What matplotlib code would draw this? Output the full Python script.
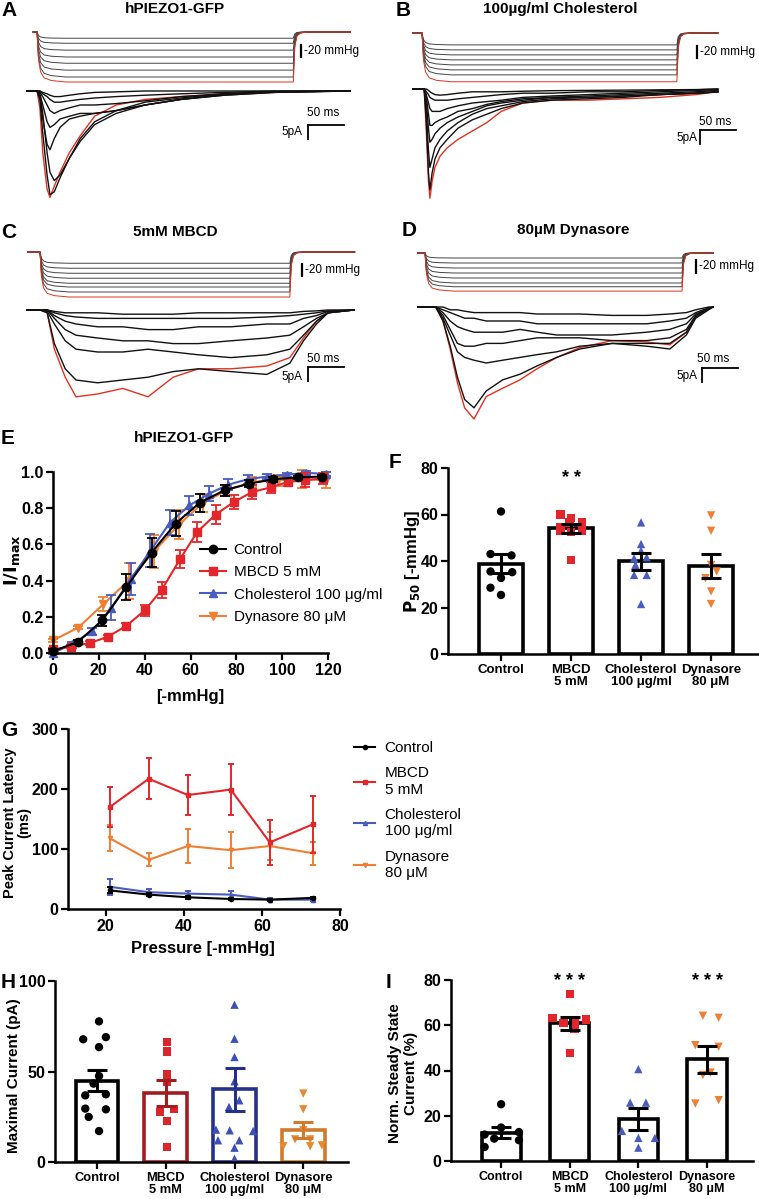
import matplotlib
matplotlib.use('Agg')
import matplotlib.pyplot as plt

plt.rcParams['font.family'] = ['Liberation Sans', 'DejaVu Sans']

W, H = 759, 1199
fig = plt.figure(figsize=(W / 100, H / 100), dpi=100)


def ax_px(x0, y0, x1, y1):
    return fig.add_axes([x0 / W, 1 - y1 / H, (x1 - x0) / W, (y1 - y0) / H])


def ftext(x, y, s, **kw):
    fig.text(x / W, 1 - y / H, s, **kw)


# ---------------- colours ----------------
C_CTRL = 'black'
C_MBCD = '#e3262b'
C_CHOL = '#4a5cbf'
C_DYN = '#f07f32'
C_TRACE_RED = '#e2321f'

# ---------------- trace data (A-D) ----------------
# pressure step levels (mmHg)
A_levels = [-10, -18, -29, -40, -50, -61, -72, -80]
B_levels = [-19, -27, -35, -43, -51, -59, -67, -78]
C_levels = [-18, -26, -34, -42, -50, -56, -64, -72]
D_levels = [-8, -16, -24, -32, -40, -48, -54, -61]
# pressure protocol times (start, release, end) in ms
A_ptimes = (-5.5, 356, 435)
B_ptimes = (-12.5, 354, 411)
C_ptimes = (-17, 347, 437)
D_ptimes = (-10, 357, 400)
# step shape
ON_T = [0, 2, 5, 10, 20, 40]
ON_F = [0, 0.55, 0.8, 0.92, 0.97, 1.0]
OFF_T = [0, 2, 5, 10, 20]
OFF_F = [1.0, 0.3, 0.08, 0.02, 0.0]

# current sweeps (pA) sampled at the listed times (ms)
A_t = [-14, 0, 4, 8, 14, 18, 24, 32, 45, 60, 80, 110, 150, 200, 260, 330, 435]
A_red = [0, 0, -6, -22, -35, -38, -34, -29, -22, -16, -9, -5, -3, -2, -1, -0.3, 0]
A_sweeps = [
    [0, 0, 0, -0.5, -1, -1.5, -2, -2, -1.5, -1, -0.5, -0.3, 0, 0, 0, 0, 0],
    [0, 0, 0, -1, -2, -3, -4, -4, -3.5, -3, -2.5, -2, -1.5, -1, -0.5, 0, 0],
    [0, 0, -0.5, -2, -5, -7, -8, -7, -6, -5, -5, -4.5, -3.5, -2, -1, -0.3, 0],
    [0, 0, -1, -5, -11, -13, -12, -10, -9, -8, -8, -7, -5, -3, -1.5, -0.5, 0],
    [0, 0, -2, -10, -19, -21, -17, -13, -10, -9, -8, -7, -5, -3, -1.5, -0.5, 0],
    [0, 0, -1, -8, -22, -29, -32, -30, -24, -18, -12, -8, -5, -3, -1.2, -0.3, 0],
    [0, 0, -3, -15, -30, -37, -36, -31, -24, -17, -11, -7, -4, -2.5, -1, -0.3, 0],
]

B_t = [-12.5, 0, 3, 6, 9, 11, 14, 18, 25, 35, 50, 70, 90, 110, 140, 180, 230, 280, 330, 380, 411]
B_red = [0, 0, 0, -15, -33, -39, -33, -28, -24, -21, -18, -15, -12, -8, -5, -4, -4, -3.5, -3, -2, -1]
B_sweeps = [
    [0, 0, 0, 0, -0.5, -1, -1.5, -2, -2.2, -2, -1.5, -1, -1, -1, -0.8, -0.6, -0.5, -0.4, -0.3, -0.2, 0],
    [0, 0, 0, -1, -2, -3, -3.5, -4, -4, -4, -3.5, -3, -2.5, -2, -1.5, -1.5, -1, -1, -0.5, -0.3, 0],
    [0, 0, 0, -2, -5, -7, -8, -8, -8, -7, -6, -5, -4.5, -4, -3, -2.5, -2, -1.5, -1, -0.5, -0.3],
    [0, 0, 0, -3, -9, -13, -13, -12, -11, -10, -8, -7, -5.5, -4.5, -3.5, -3, -2.5, -2, -1.5, -1, -0.5],
    [0, 0, 0, -5, -14, -19, -18, -16, -14, -12, -10, -8, -6, -5, -4, -3, -3, -2.5, -2, -1.5, -1],
    [0, 0, 0, -8, -22, -28, -25, -21, -18, -15, -12, -9, -7, -6, -4.5, -3.5, -3, -2.5, -2, -1.5, -1],
    [0, 0, 0, -12, -30, -36, -30, -25, -21, -18, -14, -11, -9, -7, -5, -4, -3.5, -3, -2, -1.5, -1],
]

C_t = [-18, 0, 10, 20, 35, 50, 80, 115, 150, 185, 220, 265, 315, 347, 366, 384, 400, 436]
C_red = [0, 0, -1, -14, -24, -31, -30, -28, -31, -24, -21, -21, -20, -17, -10, -4, -1, 0]
C_sweeps = [
    [0, 0, 0, -0.5, -1, -1, -1, -1.5, -1.5, -1.5, -1, -1, -1, -1, -0.5, -0.3, 0, 0],
    [0, 0, 0, -1, -2, -2.5, -3, -3, -3, -3, -3, -3, -2.5, -2, -1.5, -1, -0.3, 0],
    [0, 0, 0, -2, -4, -5, -6, -6, -7, -7, -6, -6, -5, -5, -3, -2, -0.5, 0],
    [0, 0, 0, -3, -7, -9, -10, -11, -11, -12, -12, -11, -10, -9, -6, -3, -1, 0],
    [0, 0, -0.5, -5, -11, -14, -15, -15, -14, -15, -16, -17, -16, -14, -9, -4, -1, 0],
    [0, 0, -1, -12, -21, -25, -26, -25, -24, -22, -21, -22, -23, -19, -11, -5, -1, 0],
]

D_t = [-10, 0, 15, 25, 35, 45, 55, 68, 85, 108, 132, 156, 183, 215, 260, 308, 340, 363, 376, 394, 400]
D_red = [0, 0, 0, -5, -15, -27, -36, -40, -32, -29, -26, -22, -18, -14.5, -12, -12.5, -13.5, -9, -3.5, -0.7, 0]
D_sweeps = [
    [0, 0, 0, 0, -1, -1, -1.5, -2, -2, -2, -2, -2.5, -2.5, -2.5, -3, -3, -2.5, -2, -1, 0, 0],
    [0, 0, 0, -1, -2, -3, -4, -4, -5, -5, -5, -6, -6, -6, -6, -6, -5, -4, -2, -0.3, 0],
    [0, 0, 0, -2, -5, -7, -8, -9, -9, -9, -8, -9, -10, -10, -10, -9, -8, -6, -2.5, -0.5, 0],
    [0, 0, 0, -3, -8, -13, -14, -14, -13, -13, -12, -11, -11, -11, -12, -12, -11, -8, -3, -0.5, 0],
    [0, 0, 0, -4, -10, -16, -18, -19, -20, -19, -18, -17, -16, -14, -13, -14, -15, -10, -4, -1, 0],
    [0, 0, 0, -5, -14, -25, -33, -36, -30, -26, -24, -21, -18, -15, -13, -13, -13, -9, -3.5, -0.7, 0],
]

# ---------------- E: activation curves ----------------
E_x_ctrl = [0, 10.7, 21.5, 32, 43, 53.5, 64, 75, 85.5, 96, 107, 117.5]
E_y_ctrl = [0.01, 0.06, 0.18, 0.365, 0.555, 0.715, 0.83, 0.90, 0.935, 0.96, 0.97, 0.975]
E_e_ctrl = [0.01, 0.01, 0.03, 0.07, 0.08, 0.07, 0.05, 0.03, 0.02, 0.015, 0.01, 0.01]
E_x_mbcd = [0, 8, 16, 24, 32, 40, 47.5, 55.5, 63, 71, 79, 87, 95, 102.5, 110, 118]
E_y_mbcd = [0.02, 0.035, 0.055, 0.09, 0.15, 0.235, 0.35, 0.52, 0.67, 0.765, 0.835, 0.89, 0.915, 0.945, 0.955, 0.965]
E_e_mbcd = [0.01, 0.01, 0.01, 0.01, 0.015, 0.03, 0.045, 0.05, 0.055, 0.05, 0.04, 0.04, 0.03, 0.02, 0.04, 0.03]
E_x_chol = [0, 8.5, 17, 25.5, 34, 42.5, 51, 59.5, 68, 76.5, 85, 93.5, 102, 110.5, 119]
E_y_chol = [0.0, 0.05, 0.12, 0.25, 0.41, 0.565, 0.72, 0.815, 0.88, 0.93, 0.96, 0.975, 0.985, 0.995, 0.99]
E_e_chol = [0.005, 0.01, 0.02, 0.07, 0.09, 0.09, 0.07, 0.05, 0.04, 0.03, 0.025, 0.015, 0.01, 0.01, 0.01]
E_x_dyn = [0, 11, 22, 33, 44, 55, 65.5, 76, 87, 98, 108.5, 119]
E_y_dyn = [0.07, 0.14, 0.27, 0.40, 0.56, 0.71, 0.83, 0.90, 0.945, 0.955, 0.96, 0.955]
E_e_dyn = [0.01, 0.01, 0.04, 0.10, 0.09, 0.08, 0.05, 0.03, 0.03, 0.03, 0.05, 0.045]
E_labels = ['Control', 'MBCD 5 mM', 'Cholesterol 100 \u03bcg/ml', 'Dynasore 80 \u03bcM']

# ---------------- F: P50 ----------------
F_means = [38.8, 54.0, 39.8, 37.8]
F_sem = [4.0, 2.0, 3.8, 5.1]
F_ctrl = [61.3, 43.0, 42.4, 35.5, 35.2, 32.7, 28.5, 25.4]
F_ctrl_dx = [0, -0.15, 0.15, -0.15, 0.16, 0, -0.15, 0]
F_mbcd = [60.0, 58.5, 56.6, 56.6, 54.4, 53.0, 52.6, 53.0, 40.5]
F_mbcd_dx = [-0.15, 0, -0.02, 0.16, -0.15, -0.15, 0, 0.16, 0]
F_chol = [56.6, 47.3, 44.4, 41.2, 41.6, 38.3, 34.0, 34.0, 21.5]
F_chol_dx = [0, 0, 0, -0.1, 0.08, -0.08, -0.1, 0.08, 0]
F_dyn = [59.6, 53.0, 38.3, 35.5, 32.6, 26.9, 21.5]
F_dyn_dx = [0, 0, 0, 0.08, -0.08, 0, 0]

# ---------------- G: peak latency ----------------
G_x = [21, 31, 41, 52, 62, 73]
G_ctrl = [31, 24, 19.5, 16.7, 15.6, 18.5]
G_ctrl_e = [5, 3, 2, 2, 1.5, 2]
G_mbcd = [170, 217, 190, 199, 111, 141]
G_mbcd_e = [33, 34, 34, 43, 37, 47]
G_chol = [37, 28, 25.6, 24, 15.6, 15.6]
G_chol_e = [13, 6, 4, 6, 2, 2]
G_dyn = [118, 82, 105, 98, 105, 93]
G_dyn_e = [22, 11, 29, 30, 23, 19]
G_labels = ['Control', 'MBCD\n5 mM', 'Cholesterol\n100 \u03bcg/ml', 'Dynasore\n80 \u03bcM']

# ---------------- H: maximal current ----------------
H_means = [44.8, 38.1, 40.1, 17.5]
H_sem = [5.8, 7.0, 12.0, 4.4]
H_ctrl = [77.7, 69.0, 67.8, 63.5, 47.5, 43.3, 37.4, 36.8, 29.5, 29.1, 24.9, 17.1]
H_ctrl_dx = [0.03, 0.13, -0.2, 0.03, 0.03, -0.05, 0.13, -0.17, -0.17, 0.13, -0.12, 0.03]
H_mbcd = [66.3, 61.1, 48.8, 44.2, 29.1, 27.6, 22.5, 8.3]
H_mbcd_dx = [0.02, 0.02, 0.02, 0.02, 0.12, -0.08, 0.02, 0.02]
H_chol = [86.9, 68.1, 58.0, 44.6, 34.1, 30.4, 17.9, 17.5, 17.1, 12.0, 12.0, 7.9, 1.8]
H_chol_dx = [0, 0, 0, 0, 0.07, -0.08, -0.27, -0.07, 0.27, -0.24, 0.07, 0, 0]
H_dyn = [37.8, 29.1, 17.5, 12.5, 12.5, 8.7, 8.7, 9.2]
H_dyn_dx = [0, 0, 0, -0.12, 0.1, -0.29, 0.1, 0.27]
H_edge = ['black', '#a11d22', '#26318a', '#cf7a2c']
H_pt = ['black', '#d9252b', '#3d50b5', '#e8892f']

# ---------------- I: steady state ----------------
I_means = [12.5, 60.8, 18.7, 45.0]
I_sem = [2.4, 2.8, 4.8, 6.0]
I_ctrl = [25.1, 14.8, 12.8, 11.7, 9.9, 9.2, 6.2]
I_ctrl_dx = [0, 0, 0.26, -0.24, -0.1, 0.26, -0.24]
I_mbcd = [73.8, 63.3, 62.6, 62.0, 61.0, 58.2, 47.8]
I_mbcd_dx = [0, -0.25, 0.24, 0.07, -0.09, 0.07, 0]
I_chol = [40.6, 25.8, 25.8, 13.3, 10.2, 10.2, 5.9]
I_chol_dx = [0, -0.12, 0.11, -0.24, 0, 0.24, 0]
I_dyn = [64.2, 63.3, 51.2, 50.5, 39.1, 38.0, 25.4, 26.9]
I_dyn_dx = [-0.06, 0.17, -0.17, 0.17, 0.05, -0.06, -0.17, 0.17]

CAT_LABELS = ['Control', 'MBCD\n5 mM', 'Cholesterol\n100 \u03bcg/ml', 'Dynasore\n80 \u03bcM']

# =====================================================================
PX_MS = 0.72
PX_MMHG = 0.625
PX_PA = 2.8
TLIM = (-30, 460)
P_LIM = (-95, 5)
I_LIM = (-45, 3)


def trace_panel(onset_x, p_base_y, i_base_y, levels, ptimes, t, sweeps, red, sb):
    x0 = onset_x + TLIM[0] * PX_MS
    x1 = onset_x + TLIM[1] * PX_MS
    axp = ax_px(x0, p_base_y - P_LIM[1] * PX_MMHG, x1, p_base_y - P_LIM[0] * PX_MMHG)
    axp.set_xlim(TLIM)
    axp.set_ylim(P_LIM)
    axp.axis('off')
    t_start, t_off, t_end = ptimes
    tt = [t_start] + ON_T + [t_off + r for r in OFF_T] + [t_end]
    ff = [0] + ON_F + OFF_F + [0]
    for k, L in enumerate(levels):
        last = k == len(levels) - 1
        col = C_TRACE_RED if last else '#444444'
        axp.plot(tt, [L * f for f in ff], color=col, lw=0.7, zorder=3 if last else 2)
    tb, yb0, yb1 = sb['mm']
    axp.plot([tb, tb], [yb0, yb1], color='black', lw=1.6, clip_on=False)
    axp.text(tb + 4, (yb0 + yb1) / 2, '-20 mmHg', fontsize=8.5, va='center', ha='left')

    axi = ax_px(x0, i_base_y - I_LIM[1] * PX_PA, x1, i_base_y - I_LIM[0] * PX_PA)
    axi.set_xlim(TLIM)
    axi.set_ylim(I_LIM)
    axi.axis('off')
    axi.plot(t, red, color=C_TRACE_RED, lw=1.0, zorder=2)
    for s in sweeps:
        axi.plot(t, s, color='#111111', lw=1.0, zorder=3)
    tc, ic = sb['cur']
    axi.plot([tc, tc + 50], [ic, ic], color='black', lw=1.3, clip_on=False)
    axi.plot([tc, tc], [ic, ic - 5], color='black', lw=1.3, clip_on=False)
    axi.text(sb['ms'][0], sb['ms'][1], '50 ms', fontsize=8.5, ha='center', va='center')
    axi.text(sb['pa'][0], sb['pa'][1], '5pA', fontsize=8.5, ha='right', va='center')


trace_panel(37, 32, 91, A_levels, A_ptimes, A_t, A_sweeps, A_red,
            {'mm': (367, -21, -40), 'cur': (376, -12.1), 'ms': (397, -7.9), 'pa': (369, -14.6)})
trace_panel(422, 33, 89, B_levels, B_ptimes, B_t, B_sweeps, B_red,
            {'mm': (382, -21, -40), 'cur': (386, -14.6), 'ms': (407, -11.8), 'pa': (382, -17.5)})
trace_panel(40, 252, 310, C_levels, C_ptimes, C_t, C_sweeps, C_red,
            {'mm': (364, -19, -39), 'cur': (372, -20.4), 'ms': (393, -17.5), 'pa': (365, -23.9)})
trace_panel(425, 253, 307, D_levels, D_ptimes, D_t, D_sweeps, D_red,
            {'mm': (376, -11, -32), 'cur': (385, -21.8), 'ms': (400, -18.6), 'pa': (378, -24.6)})

# panel letters and titles
LET = dict(fontsize=15, fontweight='bold', va='center', ha='left')
TIT = dict(fontsize=11, fontweight='bold', va='center', ha='center')
ftext(1, 10, 'A', **LET)
ftext(396, 10, 'B', **LET)
ftext(1, 232, 'C', **LET)
ftext(402, 231, 'D', **LET)
ftext(1, 438, 'E', **LET)
ftext(389, 462, 'F', **LET)
ftext(1, 730, 'G', **LET)
ftext(1, 983, 'H', **LET)
ftext(386, 982, 'I', **LET)
ftext(175, 9, 'hPIEZO1-GFP', **TIT)
ftext(560, 9, '100\u00b5g/ml Cholesterol', **TIT)
ftext(175, 232, '5mM MBCD', **TIT)
ftext(573, 230, '80\u00b5M Dynasore', **TIT)
ftext(184, 438, 'hPIEZO1-GFP', **TIT)


def style(ax, fs=11.5):
    for s in ['top', 'right']:
        ax.spines[s].set_visible(False)
    for s in ['left', 'bottom']:
        ax.spines[s].set_linewidth(1.8)
    ax.tick_params(width=1.6, length=5, labelsize=fs, pad=2)
    for lab in ax.get_xticklabels() + ax.get_yticklabels():
        lab.set_fontweight('bold')


# ---------------- E ----------------
axE = ax_px(53, 472, 328, 653)
axE.set_xlim(0, 120)
axE.set_ylim(0, 1.0)
handles = []
for x, y, e, col, mk, lab in [
    (E_x_dyn, E_y_dyn, E_e_dyn, C_DYN, 'v', E_labels[3]),
    (E_x_chol, E_y_chol, E_e_chol, C_CHOL, '^', E_labels[2]),
    (E_x_mbcd, E_y_mbcd, E_e_mbcd, C_MBCD, 's', E_labels[1]),
    (E_x_ctrl, E_y_ctrl, E_e_ctrl, C_CTRL, 'o', E_labels[0]),
]:
    axE.errorbar(x, y, yerr=e, fmt='none', ecolor=col, elinewidth=1.3, capsize=3.5, capthick=1.3, clip_on=False)
    ln, = axE.plot(x, y, color=col, lw=1.5, marker=mk, ms=6, clip_on=False, label=lab)
    handles.append(ln)
handles = handles[::-1]
axE.set_xticks(range(0, 121, 20))
axE.set_yticks([0, 0.2, 0.4, 0.6, 0.8, 1.0])
axE.set_yticklabels(['0.0', '0.2', '0.4', '0.6', '0.8', '1.0'])
style(axE)
fig.legend(handles=handles, loc='upper left', bbox_to_anchor=(200 / W, 1 - 543 / H), frameon=False,
           fontsize=11, handlelength=1.7, handletextpad=0.5, labelspacing=0.55, borderpad=0, borderaxespad=0)
ftext(12, 560, r'$\mathbf{I/I_{max}}$', fontsize=13, rotation=90, ha='center', va='center')
ftext(190, 697, '[-mmHg]', fontsize=12, fontweight='bold', ha='center', va='center')


def bar_panel(ax, means, sem, groups, edges, ptcols, markers, width, capsize, fs):
    xs = range(len(means))
    ax.bar(xs, means, width=width, color='white', edgecolor=edges, linewidth=2.6, zorder=1)
    for i, (vals, dx) in enumerate(groups):
        ax.scatter([i + d for d in dx], vals, marker=markers[i], s=36, color=ptcols[i],
                   edgecolors='none', zorder=2, clip_on=False)
    for i in xs:
        ax.errorbar([i], [means[i]], yerr=[sem[i]], fmt='none', ecolor=edges[i], elinewidth=2.2,
                    capsize=capsize, capthick=2.2, zorder=3)
    ax.set_xticks(list(xs))
    ax.set_xticklabels(CAT_LABELS, linespacing=1.05)
    style(ax)
    for lab in ax.get_xticklabels():
        lab.set_fontsize(fs)


MARKERS = ['o', 's', '^', 'v']

# ---------------- F ----------------
axF = ax_px(448, 468, 758, 654)
axF.set_xlim(-0.757, 3.67)
axF.set_ylim(0, 80)
axF.set_yticks([0, 20, 40, 60, 80])
bar_panel(axF, F_means, F_sem,
          [(F_ctrl, F_ctrl_dx), (F_mbcd, F_mbcd_dx), (F_chol, F_chol_dx), (F_dyn, F_dyn_dx)],
          ['black'] * 4, [C_CTRL, C_MBCD, C_CHOL, C_DYN], MARKERS, 0.63, 7.5, 9.5)
axF.text(1, 75.5, '* *', fontsize=13, fontweight='bold', ha='center', va='center')
ftext(412, 561, r'$\mathbf{P_{50}}$ [-mmHg]', fontsize=12, fontweight='bold', rotation=90, ha='center', va='center')

# ---------------- G ----------------
axG = ax_px(68, 729, 340, 909)
axG.set_xlim(10.3, 80)
axG.set_ylim(0, 300)
g_handles = []
for y, e, col, mk, lab in [
    (G_dyn, G_dyn_e, C_DYN, 'v', G_labels[3]),
    (G_mbcd, G_mbcd_e, C_MBCD, 's', G_labels[1]),
    (G_chol, G_chol_e, C_CHOL, '^', G_labels[2]),
    (G_ctrl, G_ctrl_e, C_CTRL, 'o', G_labels[0]),
]:
    axG.errorbar(G_x, y, yerr=e, fmt='none', ecolor=col, elinewidth=1.4, capsize=2.5, capthick=1.4)
    ln, = axG.plot(G_x, y, color=col, lw=1.5, marker=mk, ms=3, label=lab)
    g_handles.append(ln)
g_handles = [g_handles[3], g_handles[1], g_handles[2], g_handles[0]]
axG.set_xticks([20, 40, 60, 80])
axG.set_yticks([0, 100, 200, 300])
style(axG)
fig.legend(handles=g_handles, loc='upper left', bbox_to_anchor=(354 / W, 1 - 741 / H), frameon=False,
           fontsize=11, handlelength=1.4, handletextpad=0.6, labelspacing=0.75, borderpad=0, borderaxespad=0)
ftext(203, 949, 'Pressure [-mmHg]', fontsize=12, fontweight='bold', ha='center', va='center')
ftext(17, 823, 'Peak Current Latency\n(ms)', fontsize=10.5, fontweight='bold', rotation=90,
      ha='center', va='center', linespacing=1.0)

# ---------------- H ----------------
axH = ax_px(55, 981, 348, 1162)
axH.set_xlim(-0.61, 3.65)
axH.set_ylim(0, 100)
axH.set_yticks([0, 50, 100])
bar_panel(axH, H_means, H_sem,
          [(H_ctrl, H_ctrl_dx), (H_mbcd, H_mbcd_dx), (H_chol, H_chol_dx), (H_dyn, H_dyn_dx)],
          H_edge, H_pt, MARKERS, 0.62, 7.5, 9.3)
ftext(14, 1076, 'Maximal Current (pA)', fontsize=11, fontweight='bold', rotation=90, ha='center', va='center')

# ---------------- I ----------------
axI = ax_px(451, 980, 753, 1161)
axI.set_xlim(-0.73, 3.67)
axI.set_ylim(0, 80)
axI.set_yticks([0, 20, 40, 60, 80])
bar_panel(axI, I_means, I_sem,
          [(I_ctrl, I_ctrl_dx), (I_mbcd, I_mbcd_dx), (I_chol, I_chol_dx), (I_dyn, I_dyn_dx)],
          ['black'] * 4, [C_CTRL, C_MBCD, C_CHOL, C_DYN], MARKERS, 0.57, 7, 9)
axI.text(1, 79.5, '* * *', fontsize=13, fontweight='bold', ha='center', va='center')
axI.text(3, 79.5, '* * *', fontsize=13, fontweight='bold', ha='center', va='center')
ftext(403, 1073, 'Norm. Steady State\nCurrent (%)', fontsize=11, fontweight='bold', rotation=90,
      ha='center', va='center', linespacing=1.1)

fig.savefig('out.png', dpi=100)
